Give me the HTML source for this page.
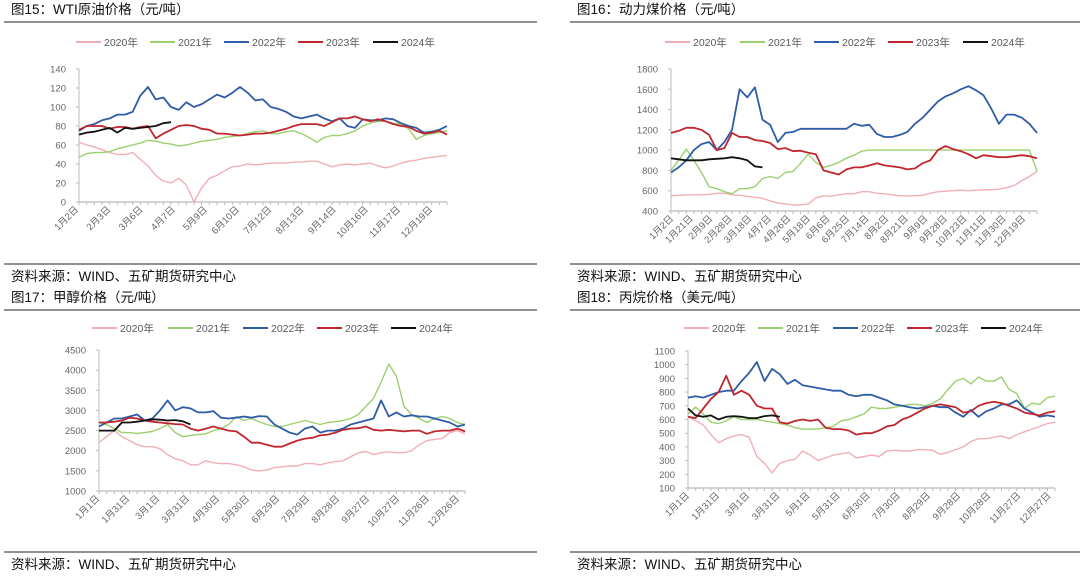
<!DOCTYPE html>
<html><head><meta charset="utf-8">
<style>
html,body{margin:0;padding:0;background:#fff;}
body{width:1080px;height:577px;overflow:hidden;position:relative;font-family:"Liberation Sans","Noto Sans CJK SC",sans-serif;}
svg{position:absolute;left:0;top:0;}
</style></head>
<body>
<svg id="root" width="1080" height="577" viewBox="0 0 1080 577" xmlns="http://www.w3.org/2000/svg"></svg>
<script>
// ---------- Panel 1: WTI ----------
const wtiLabels = ["1月2日","2月3日","3月6日","4月7日","5月9日","6月10日","7月12日","8月13日","9月14日","10月16日","11月17日","12月19日"];
const wtiTicks = [0,20,40,60,80,100,120,140];
const wti2020 = [63,60,58,55,52,50,50,52,45,38,28,22,20,25,18,0,15,25,28,33,37,38,40,39,40,41,41,41,42,42,43,43,40,37,39,40,39,40,41,38,36,38,41,43,44,46,47,48,49];
const wti2021 = [47,51,52,52,53,56,58,60,62,65,64,62,61,59,60,62,64,65,66,68,69,70,72,74,75,72,72,74,75,72,68,63,68,70,70,72,75,80,83,85,85,83,82,77,66,70,72,73,75];
const wti2022 = [75,80,82,86,88,92,92,95,112,121,108,110,100,97,105,100,103,108,113,110,115,121,115,107,108,100,98,95,90,88,90,92,88,85,88,80,78,87,86,86,88,87,83,80,78,73,74,76,80];
const wti2023 = [76,80,80,80,77,79,79,77,79,80,67,72,76,80,81,80,77,76,72,72,71,70,71,72,72,73,75,77,80,82,82,82,80,84,88,88,90,87,85,87,85,82,80,79,75,72,73,75,71];
const wti2024 = [71,73,74,76,78,73,78,77,78,79,80,83,84];
// ---------- Panel 2: Coal ----------
const coalLabels = ["1月2日","1月21日","2月9日","2月28日","3月18日","4月7日","4月26日","5月18日","6月6日","6月25日","7月14日","8月2日","8月21日","9月9日","9月28日","10月23日","11月11日","11月30日","12月19日"];
const coalTicks = [400,600,800,1000,1200,1400,1600,1800];
const coal2020 = [550,555,560,560,560,565,575,575,560,555,545,535,525,500,480,470,460,460,470,530,550,545,560,570,570,590,590,575,570,560,550,550,550,555,575,590,595,600,605,600,605,610,610,615,630,650,700,740,790];
const coal2021 = [800,900,1010,900,780,640,620,590,570,620,620,640,720,740,720,780,790,870,960,880,830,850,880,920,950,990,1000,1000,1000,1000,1000,1000,1000,1000,1000,1000,1000,1000,1000,1000,1000,1000,1000,1000,1000,1000,1000,1000,790];
const coal2022 = [780,830,900,1000,1060,1080,1000,1080,1200,1600,1520,1620,1300,1250,1080,1170,1180,1210,1210,1210,1210,1210,1210,1210,1260,1240,1250,1160,1130,1130,1150,1180,1260,1320,1400,1480,1530,1560,1600,1630,1590,1540,1410,1260,1350,1350,1320,1260,1170];
const coal2023 = [1170,1190,1220,1220,1200,1150,1000,1020,1170,1130,1130,1100,1090,1070,1010,1020,990,995,975,960,800,780,760,810,830,830,850,870,850,840,830,810,820,870,900,1000,1040,1010,990,960,920,950,940,930,930,940,950,940,920];
const coal2024 = [920,910,900,900,900,910,915,920,930,920,900,840,830];
// ---------- Panel 3: Methanol ----------
const methLabels = ["1月1日","1月31日","3月1日","3月31日","4月30日","5月30日","6月29日","7月29日","8月28日","9月27日","10月27日","11月26日","12月26日"];
const methTicks = [1000,1500,2000,2500,3000,3500,4000,4500];
const meth2020 = [2200,2350,2500,2350,2250,2150,2100,2100,2050,1900,1800,1750,1650,1650,1750,1700,1680,1680,1650,1600,1520,1500,1520,1580,1600,1620,1620,1680,1680,1650,1700,1730,1750,1850,1950,1980,1900,1950,1970,1950,1950,2000,2150,2250,2280,2300,2450,2500,2420];
const meth2021 = [2700,2650,2550,2450,2450,2430,2450,2480,2550,2650,2450,2350,2380,2400,2420,2500,2550,2650,2850,2750,2800,2720,2650,2600,2600,2650,2700,2750,2700,2650,2700,2720,2750,2800,2900,3100,3300,3700,4150,3850,3100,2900,2800,2700,2800,2850,2800,2700,2650];
const meth2022 = [2600,2700,2800,2800,2850,2900,2750,2800,3000,3250,3000,3080,3050,2950,2950,2980,2820,2800,2820,2850,2820,2860,2850,2650,2550,2450,2400,2550,2600,2450,2500,2500,2550,2650,2700,2750,2800,3250,2850,2950,2850,2880,2850,2850,2800,2750,2700,2600,2650];
const meth2023 = [2700,2700,2720,2750,2820,2800,2750,2720,2700,2680,2660,2650,2550,2500,2550,2600,2550,2500,2480,2350,2200,2200,2150,2100,2100,2180,2250,2300,2320,2380,2400,2450,2520,2550,2560,2600,2520,2500,2520,2500,2480,2500,2500,2420,2480,2500,2500,2550,2480];
const meth2024 = [2500,2500,2500,2700,2700,2720,2750,2780,2770,2750,2760,2730,2650];
// ---------- Panel 4: Propane ----------
const propLabels = ["1月1日","1月31日","3月1日","3月31日","5月1日","5月31日","6月30日","7月30日","8月29日","9月28日","10月28日","11月27日","12月27日"];
const propTicks = [100,200,300,400,500,600,700,800,900,1000,1100];
const prop2020 = [620,590,560,490,430,460,480,490,470,330,280,210,280,300,310,370,340,300,320,340,350,360,320,330,340,330,370,375,370,370,380,380,375,345,360,380,400,440,460,460,470,480,460,490,510,530,550,570,580];
const prop2021 = [640,690,640,580,570,590,620,600,600,600,590,580,570,560,540,530,530,530,540,550,590,600,620,640,690,680,680,690,700,710,710,700,720,750,820,880,900,860,910,880,880,910,820,790,680,720,710,760,770];
const prop2022 = [760,770,760,780,800,810,810,880,940,1020,880,970,930,860,890,850,840,830,820,810,810,780,770,780,780,760,740,710,700,690,680,690,700,690,690,650,620,670,620,660,680,710,710,740,680,650,620,630,620];
const prop2023 = [620,610,680,750,800,920,780,810,780,700,680,680,580,570,590,600,590,600,540,530,530,520,490,500,500,520,550,560,600,620,650,680,700,710,700,690,650,660,700,720,730,720,700,680,650,640,630,650,660];
const prop2024 = [680,630,620,630,600,620,625,620,610,610,625,630,620];

const yearNames = ["2020年","2021年","2022年","2023年","2024年"];
const colors = ["#f2aeb6","#9ccf6e","#2f5ca6","#c0262d","#111111"];
const widths = [1.4,1.4,1.8,1.8,1.8];
const NS = "http://www.w3.org/2000/svg";
const root = document.getElementById("root");

function mk(tag, attrs, parent){
  const e = document.createElementNS(NS, tag);
  for (const k in attrs) e.setAttribute(k, attrs[k]);
  (parent||root).appendChild(e);
  return e;
}

function panel(p){
  const g = mk("g", {});
  
  
  // title
  const t = mk("text", {x:p.titleX, y:p.titleY, "font-size":"13.5", fill:"#111"}, g);
  t.textContent = p.title;
  
  
  const r1 = mk("line", {x1:p.ruleX1, x2:p.ruleX2, y1:p.titleY+8, y2:p.titleY+8, stroke:"#222", "stroke-width":"1"}, g);
  
  
  // legend
  for (let i=0;i<5;i++){
    const lx = p.legX[i];
    const le = mk("g", {}, g);
    
    
    mk("line", {x1:lx, x2:lx+25, y1:p.legY, y2:p.legY, stroke:colors[i], "stroke-width":"2"}, le);
    const lt = mk("text", {x:lx+28, y:p.legY+4, "font-size":"10.5", fill:"#595959"}, le);
    lt.textContent = yearNames[i];
  }
  // scales
  const yS = v => p.y0 + (v - p.vmin)/(p.vmax - p.vmin)*(p.y1 - p.y0);
  const xS = (k, n) => p.x0 + k/(n-1)*(p.x1 - p.x0);
  // axes
  const ya = mk("line", {x1:p.x0, x2:p.x0, y1:p.y1, y2:p.y0, stroke:"#bbb", "stroke-width":"1"}, g);
  
  
  const xa = mk("line", {x1:p.x0, x2:p.x1, y1:p.y0, y2:p.y0, stroke:"#bbb", "stroke-width":"1.2"}, g);
  
  
  p.ticks.forEach(v=>{
    const y = yS(v);
    mk("line", {x1:p.x0-3, x2:p.x0, y1:y, y2:y, stroke:"#bbb"}, g);
    const tl = mk("text", {x:p.x0-13, y:y+3.5, "font-size":"9.5", fill:"#666", "text-anchor":"end"}, g);
    tl.textContent = v;
    
    
  });
  // minor ticks
  const nm = 48;
  for (let i=0;i<=nm;i++){
    const x = p.x0 + i/nm*(p.x1-p.x0);
    mk("line", {x1:x, x2:x, y1:p.y0, y2:p.y0+3, stroke:"#bbb"}, g);
  }
  const n = p.labels.length;
  p.labels.forEach((lab,i)=>{
    const x = p.x0 + (p.lf0 + i/(n-1)*(p.lf1-p.lf0))*(p.x1-p.x0);
    const yy = p.y0 + 8;
    const tl = mk("text", {x:x, y:yy, "font-size":"9.5", fill:"#666", "text-anchor":"end", transform:`rotate(-45 ${x} ${yy})`}, g);
    tl.textContent = lab;
    
    
  });
  // series
  p.series.forEach((arr,i)=>{
    const N = 49;
    const d = arr.map((v,k)=> (k?"L":"M") + xS(k,N).toFixed(1) + " " + yS(v).toFixed(1)).join(" ");
    const path = mk("path", {d:d, fill:"none", stroke:colors[i], "stroke-width":widths[i], "stroke-linejoin":"round"}, g);
    
    
  });
  // bottom rule + source
  const r2 = mk("line", {x1:p.ruleX1, x2:p.ruleX2, y1:p.botY, y2:p.botY, stroke:"#222", "stroke-width":"1"}, g);
  
  
  const s = mk("text", {x:p.titleX, y:p.botY+17, "font-size":"13.5", fill:"#111"}, g);
  s.textContent = "资料来源：WIND、五矿期货研究中心";
  
  
}

panel({name:"wti-chart", title:"图15：WTI原油价格（元/吨）", titleX:11, titleY:14, ruleX1:4, ruleX2:537,
  legX:[76,150,224,298,373], legY:42, x0:79, x1:447, y0:202, y1:69, vmin:0, vmax:140,
  ticks:wtiTicks, labels:wtiLabels, lf0:0, lf1:0.962, botY:264,
  series:[wti2020,wti2021,wti2022,wti2023,wti2024]});
panel({name:"coal-chart", title:"图16：动力煤价格（元/吨）", titleX:577, titleY:14, ruleX1:570, ruleX2:1080,
  legX:[665,740,814,888,963], legY:42, x0:671, x1:1037, y0:211, y1:69, vmin:400, vmax:1800,
  ticks:coalTicks, labels:coalLabels, lf0:0.008, lf1:0.97, botY:264,
  series:[coal2020,coal2021,coal2022,coal2023,coal2024]});
panel({name:"methanol-chart", title:"图17：甲醇价格（元/吨）", titleX:11, titleY:302, ruleX1:4, ruleX2:537,
  legX:[92,168,243,317,391], legY:328, x0:99, x1:465, y0:491, y1:350, vmin:1000, vmax:4500,
  ticks:methTicks, labels:methLabels, lf0:0.003, lf1:0.986, botY:552,
  series:[meth2020,meth2021,meth2022,meth2023,meth2024]});
panel({name:"propane-chart", title:"图18：丙烷价格（美元/吨）", titleX:577, titleY:302, ruleX1:570, ruleX2:1080,
  legX:[684,758,833,907,981], legY:328, x0:688, x1:1055, y0:488, y1:351, vmin:100, vmax:1100,
  ticks:propTicks, labels:propLabels, lf0:0.005, lf1:0.99, botY:552,
  series:[prop2020,prop2021,prop2022,prop2023,prop2024]});
</script>
</body></html>
